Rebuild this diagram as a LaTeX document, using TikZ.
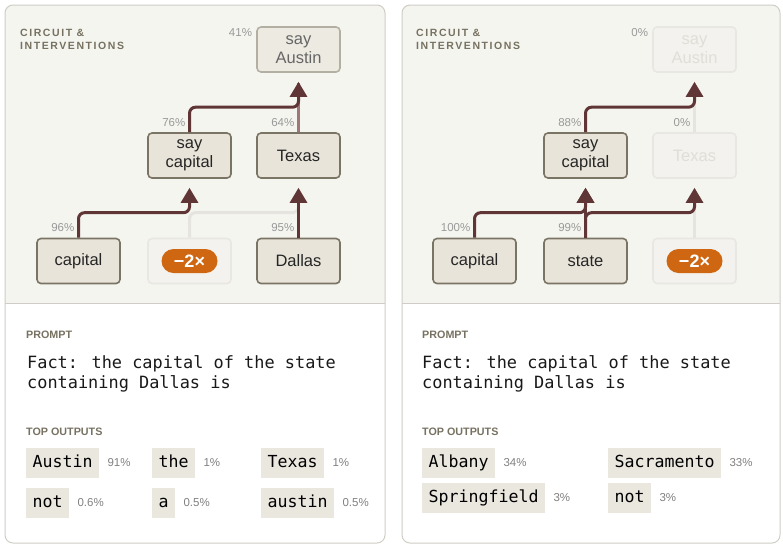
\documentclass[tikz,border=0pt]{standalone}
\usepackage{fontspec}
\setmainfont{Liberation Sans}
\newfontfamily\monofont{DejaVu Sans Mono}
\newfontfamily\titlefont[LetterSpace=15]{Liberation Sans}
\usetikzlibrary{arrows.meta,positioning}

\definecolor{panelline}{HTML}{CFCDC5}
\definecolor{topbg}{HTML}{F5F5F0}
\definecolor{boxfill}{HTML}{E8E4D9}
\definecolor{boxline}{HTML}{7A7464}
\definecolor{dimfill}{HTML}{EDEAE2}
\definecolor{dimline}{HTML}{B3AFA2}
\definecolor{offfill}{HTML}{F3F2EE}
\definecolor{offline}{HTML}{E9E7E1}
\definecolor{offtext}{HTML}{E0DED7}
\definecolor{wirec}{HTML}{603536}
\definecolor{weakwire}{HTML}{9E7878}
\definecolor{faintwire}{HTML}{E6E4DE}
\definecolor{badgec}{HTML}{CF6611}
\definecolor{headc}{HTML}{767160}
\definecolor{chipfill}{HTML}{EAE7DF}

\tikzset{
  panel/.style={draw=panelline, line width=1pt},
  feature/.style={rectangle, rounded corners=4pt, draw=boxline, fill=boxfill,
    line width=1.6pt, minimum width=83pt, minimum height=45pt, align=center,
    text=black!85, font=\fontsize{16.5}{18.5}\selectfont},
  dimfeature/.style={feature, draw=dimline, fill=dimfill, text=black!60},
  offfeature/.style={feature, draw=offline, fill=offfill, text=offtext},
  badge/.style={rectangle, rounded corners=12pt, fill=badgec, text=white,
    minimum width=56pt, minimum height=24pt, inner sep=0pt,
    font=\fontsize{18}{18}\selectfont\bfseries},
  pct/.style={inner sep=0pt, text=black!40, font=\fontsize{11.5}{12}\selectfont},
  outpct/.style={inner sep=0pt, text=black!50, font=\fontsize{11.5}{12}\selectfont},
  wire/.style={draw=wirec, line width=3pt, rounded corners=6pt,
    -{Triangle[width=17pt,length=15pt]}, shorten >=9pt},
  weak/.style={draw=weakwire, line width=3pt, shorten >=10pt},
  faint/.style={draw=faintwire, line width=3pt, rounded corners=6pt, shorten >=10pt},
  heading/.style={inner sep=0pt, text=headc, font=\fontsize{10.75}{12}\selectfont\bfseries},
  title/.style={inner sep=0pt, text=headc, align=left,
    font=\fontsize{10.5}{12.7}\selectfont\titlefont\bfseries},
  prompt/.style={inner sep=0pt, align=left, text=black!90,
    font=\fontsize{16.9}{20}\selectfont\monofont},
  chip/.style={fill=chipfill, inner xsep=6.5pt, inner ysep=0pt, minimum height=30pt,
    text height=12pt, text depth=3.5pt, anchor=west,
    font=\fontsize{16.6}{18}\selectfont\monofont}
}

\begin{document}
\begin{tikzpicture}[x=1pt,y=-1pt]

    \useasboundingbox (0,0) rectangle (783,547);

    % Panel frames: grey top part for the circuit, white part below
    \begin{scope}
      \clip[rounded corners=8pt] (5,5) rectangle (385,543);
      \fill[topbg] (5,5) rectangle (385,303);
    \end{scope}
    \begin{scope}
      \clip[rounded corners=8pt] (402,5) rectangle (780,543);
      \fill[topbg] (402,5) rectangle (780,303);
    \end{scope}
    \draw[panel, rounded corners=8pt] (5,5) rectangle (385,543);
    \draw[panel, rounded corners=8pt] (402,5) rectangle (780,543);
    \draw[panel] (5,303) -- (385,303);
    \draw[panel] (402,303) -- (780,303);

    % Left panel: feature nodes
    \node[title, anchor=north west] (titleL) at (20,29) {CIRCUIT \&\\INTERVENTIONS};
    \node[dimfeature] (sausL) at (298.5,49.5) {say\\Austin};
    \node[feature] (scapL) at (189.5,155.5) {say\\capital};
    \node[feature] (texL) at (298.5,155.5) {Texas};
    \node[feature] (capL) at (78.5,261) {capital};
    \node[offfeature] (negboxL) at (189.5,261) {};
    \node[feature] (dalL) at (298.5,261) {Dallas};
    \node[badge] (negL) at (negboxL) {−2×};

    % Left panel: connections (faded ones first)
    \draw[faint] (negboxL.north) -- ++(0,-25) -| (texL.south);
    \draw[weak] (texL.north) -- (sausL.south);
    \draw[wire] (capL.north) -- ++(0,-25) -| (scapL.south);
    \draw[wire] (dalL.north) -- (texL.south);
    \draw[wire] (scapL.north) -- ++(0,-25) -| (sausL.south);

    % Left panel: activation percentages
    \node[pct, anchor=north east] (psausL) at ([xshift=-4pt,yshift=-2pt]sausL.north west) {41\%};
    \node[pct, left=4pt of scapL.north, yshift=10pt] (pscapL) {76\%};
    \node[pct, left=4pt of texL.north, yshift=10pt] (ptexL) {64\%};
    \node[pct, left=4pt of capL.north, yshift=10pt] (pcapL) {96\%};
    \node[pct, left=4pt of dalL.north, yshift=10pt] (pdalL) {95\%};

    % Left panel: prompt and outputs
    \node[heading, anchor=base west] (promptheadL) at (26,338) {PROMPT};
    \node[prompt, anchor=north west] (promptL) at (27,355) {Fact: the capital of the state\\containing Dallas is};
    \node[heading, anchor=base west] (outheadL) at (26,435) {TOP OUTPUTS};
    \node[chip] (o1L) at (26,463) {Austin};
    \node[outpct, right=8pt of o1L] {91\%};
    \node[chip] (o2L) at (152,463) {the};
    \node[outpct, right=8pt of o2L] {1\%};
    \node[chip] (o3L) at (261,463) {Texas};
    \node[outpct, right=8pt of o3L] {1\%};
    \node[chip] (o4L) at (26,503) {not};
    \node[outpct, right=8pt of o4L] {0.6\%};
    \node[chip] (o5L) at (152,503) {a};
    \node[outpct, right=8pt of o5L] {0.5\%};
    \node[chip] (o6L) at (261,503) {austin};
    \node[outpct, right=8pt of o6L] {0.5\%};

    % Right panel: feature nodes
    \node[title, anchor=north west] (titleR) at (416,29) {CIRCUIT \&\\INTERVENTIONS};
    \node[offfeature] (sausR) at (694.5,49.5) {say\\Austin};
    \node[feature] (scapR) at (585.5,155.5) {say\\capital};
    \node[offfeature] (texR) at (694.5,155.5) {Texas};
    \node[feature] (capR) at (474.5,261) {capital};
    \node[feature] (staR) at (585.5,261) {state};
    \node[offfeature] (negboxR) at (694.5,261) {};
    \node[badge] (negR) at (negboxR) {−2×};

    % Right panel: connections
    \draw[faint] (negboxR.north) -- (texR.south);
    \draw[faint] (texR.north) -- (sausR.south);
    \draw[wire] (capR.north) -- ++(0,-25) -| (scapR.south);
    \draw[wire] (staR.north) -- ++(0,-25) -| (texR.south);
    \draw[wire] (staR.north) -- (scapR.south);
    \draw[wire] (scapR.north) -- ++(0,-25) -| (sausR.south);

    % Right panel: activation percentages
    \node[pct, anchor=north east] (psausR) at ([xshift=-4pt,yshift=-2pt]sausR.north west) {0\%};
    \node[pct, left=4pt of scapR.north, yshift=10pt] (pscapR) {88\%};
    \node[pct, left=4pt of texR.north, yshift=10pt] (ptexR) {0\%};
    \node[pct, left=4pt of capR.north, yshift=10pt] (pcapR) {100\%};
    \node[pct, left=4pt of staR.north, yshift=10pt] (pstaR) {99\%};

    % Right panel: prompt and outputs
    \node[heading, anchor=base west] (promptheadR) at (422,338) {PROMPT};
    \node[prompt, anchor=north west] (promptR) at (422,355) {Fact: the capital of the state\\containing Dallas is};
    \node[heading, anchor=base west] (outheadR) at (422,435) {TOP OUTPUTS};
    \node[chip] (o1R) at (422,463) {Albany};
    \node[outpct, right=8pt of o1R] {34\%};
    \node[chip] (o2R) at (608,463) {Sacramento};
    \node[outpct, right=8pt of o2R] {33\%};
    \node[chip] (o3R) at (422,498) {Springfield};
    \node[outpct, right=8pt of o3R] {3\%};
    \node[chip] (o4R) at (608,498) {not};
    \node[outpct, right=8pt of o4R] {3\%};

\end{tikzpicture}
\end{document}
